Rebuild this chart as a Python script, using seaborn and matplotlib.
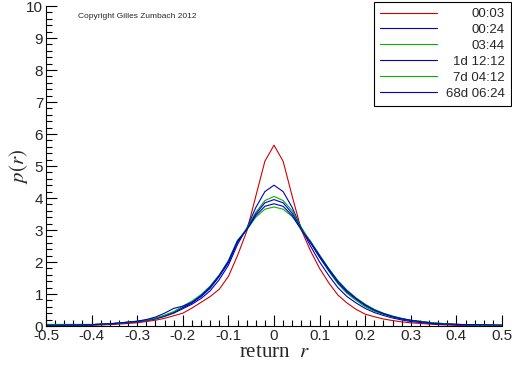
import numpy as np
import pandas as pd
import matplotlib
matplotlib.use("Agg")
import matplotlib.pyplot as plt
from matplotlib.ticker import MultipleLocator
import seaborn as sns

# --- data ---
r_grid = [-0.5, -0.45, -0.4, -0.35, -0.3, -0.28, -0.26, -0.24, -0.22, -0.2,
          -0.18, -0.16, -0.14, -0.12, -0.1, -0.08, -0.06, -0.04, -0.02, 0.0,
          0.02, 0.04, 0.06, 0.08, 0.1, 0.12, 0.14, 0.16, 0.18, 0.2,
          0.22, 0.24, 0.26, 0.28, 0.3, 0.35, 0.4, 0.45, 0.5]

labels = ["00:03", "00:24", "03:44", "1d 12:12", "7d 04:12", "68d 06:24"]
colors = ["#d00000", "#0000c8", "#00b400", "#0000c8", "#00b400", "#0000c8"]

p_0003 = [0.0, 0.01, 0.02, 0.05, 0.10, 0.14, 0.18, 0.24, 0.32, 0.40,
          0.56, 0.74, 0.92, 1.15, 1.55, 2.2, 2.95, 4.05, 5.15, 5.65,
          5.15, 4.05, 3.0, 2.35, 1.8, 1.35, 0.97, 0.72, 0.52, 0.37,
          0.29, 0.22, 0.17, 0.13, 0.10, 0.05, 0.02, 0.01, 0.0]
p_0024 = [0.01, 0.02, 0.04, 0.07, 0.13, 0.17, 0.22, 0.30, 0.40, 0.54,
          0.68, 0.86, 1.10, 1.45, 1.90, 2.55, 3.05, 3.7, 4.2, 4.4,
          4.2, 3.7, 3.05, 2.5, 2.0, 1.58, 1.2, 0.92, 0.72, 0.55,
          0.42, 0.33, 0.25, 0.19, 0.14, 0.07, 0.04, 0.02, 0.01]
p_0344 = [0.05, 0.05, 0.05, 0.08, 0.14, 0.18, 0.24, 0.32, 0.43, 0.58,
          0.73, 0.93, 1.20, 1.56, 2.00, 2.65, 3.05, 3.55, 3.92, 4.05,
          3.92, 3.6, 3.08, 2.62, 2.15, 1.72, 1.32, 1.02, 0.80, 0.60,
          0.46, 0.36, 0.28, 0.22, 0.17, 0.09, 0.05, 0.03, 0.02]
p_1d = [0.02, 0.03, 0.04, 0.08, 0.14, 0.18, 0.23, 0.31, 0.42, 0.57,
        0.72, 0.92, 1.18, 1.55, 1.98, 2.62, 3.02, 3.5, 3.85, 3.95,
        3.85, 3.52, 3.05, 2.6, 2.15, 1.74, 1.36, 1.06, 0.84, 0.64,
        0.49, 0.38, 0.29, 0.22, 0.17, 0.09, 0.05, 0.03, 0.02]
p_7d = [0.02, 0.03, 0.04, 0.08, 0.15, 0.19, 0.25, 0.34, 0.45, 0.62,
        0.78, 0.98, 1.25, 1.60, 2.05, 2.68, 3.0, 3.4, 3.65, 3.72,
        3.65, 3.42, 3.02, 2.66, 2.22, 1.8, 1.42, 1.12, 0.88, 0.68,
        0.52, 0.40, 0.31, 0.24, 0.18, 0.10, 0.05, 0.03, 0.02]
p_68d = [0.02, 0.03, 0.04, 0.08, 0.15, 0.20, 0.28, 0.40, 0.55, 0.62,
         0.74, 0.95, 1.22, 1.58, 2.02, 2.66, 3.0, 3.45, 3.74, 3.82,
         3.74, 3.45, 3.0, 2.62, 2.2, 1.78, 1.4, 1.1, 0.86, 0.66,
         0.50, 0.39, 0.30, 0.23, 0.18, 0.08, 0.05, 0.04, 0.03]

x_ticks = [-0.5, -0.4, -0.3, -0.2, -0.1, 0.0, 0.1, 0.2, 0.3, 0.4, 0.5]
x_tick_labels = ["-0.5", "-0.4", "-0.3", "-0.2", "-0.1", "0",
                 "0.1", "0.2", "0.3", "0.4", "0.5"]
y_ticks = list(range(0, 11))

# --- long-form table for seaborn ---
series = [p_0003, p_0024, p_0344, p_1d, p_7d, p_68d]
df = pd.concat([pd.DataFrame({"r": r_grid, "p": s, "span": lab})
                for s, lab in zip(series, labels)], ignore_index=True)

# --- styling ---
sns.set_style("ticks")
plt.rcParams["font.family"] = ["Liberation Sans", "DejaVu Sans"]
plt.rcParams["mathtext.fontset"] = "stix"

fig = plt.figure(figsize=(5.12, 3.66), dpi=100)
ax = fig.add_axes([46 / 512, 1 - 326 / 366, 456 / 512, 320 / 366])

sns.lineplot(data=df, x="r", y="p", hue="span", hue_order=labels,
             palette=dict(zip(labels, colors)), estimator=None,
             linewidth=0.8, ax=ax, legend=True)

ax.set_xlim(-0.5, 0.5)
ax.set_ylim(0, 10)
ax.set_xticks(x_ticks)
ax.set_xticklabels(x_tick_labels)
ax.set_yticks(y_ticks)
ax.set_yticklabels([str(v) for v in y_ticks])
ax.xaxis.set_minor_locator(MultipleLocator(0.02))
ax.yaxis.set_minor_locator(MultipleLocator(0.2))
ax.tick_params(which="major", direction="in", length=8, width=0.8,
               labelsize=11, pad=2, color="black")
ax.tick_params(which="minor", direction="in", length=4, width=0.8, color="black")
sns.despine(ax=ax)
for sp in ax.spines.values():
    sp.set_color("black")
    sp.set_linewidth(0.8)

ax.set_xlabel("return  $r$", family="Liberation Serif", fontsize=15, labelpad=0)
ax.set_ylabel("$p(r)$", family="Liberation Serif", fontsize=15, labelpad=-3)

leg = ax.legend(loc="upper right", bbox_to_anchor=(511 / 512, 1 - 2 / 366),
                bbox_transform=fig.transFigure, borderaxespad=0,
                fontsize=9.5, handlelength=4.3, handletextpad=0.7,
                labelspacing=0.28, borderpad=0.45, fancybox=False,
                framealpha=1, edgecolor="black", title=None)
leg.get_frame().set_linewidth(0.8)
for h in leg.get_lines():
    h.set_linewidth(0.8)

# right-align the legend labels: push the short ones over to the widest
renderer = fig.canvas.get_renderer()
widths = [t.get_window_extent(renderer).width for t in leg.get_texts()]
wmax = max(widths)
for t, w in zip(leg.get_texts(), widths):
    t.set_position((wmax - w, 0))

fig.text(78 / 512, 1 - 17 / 366, "Copyright Gilles Zumbach 2012",
         fontsize=6, va="center", ha="left")

fig.savefig("out.png", dpi=100)
